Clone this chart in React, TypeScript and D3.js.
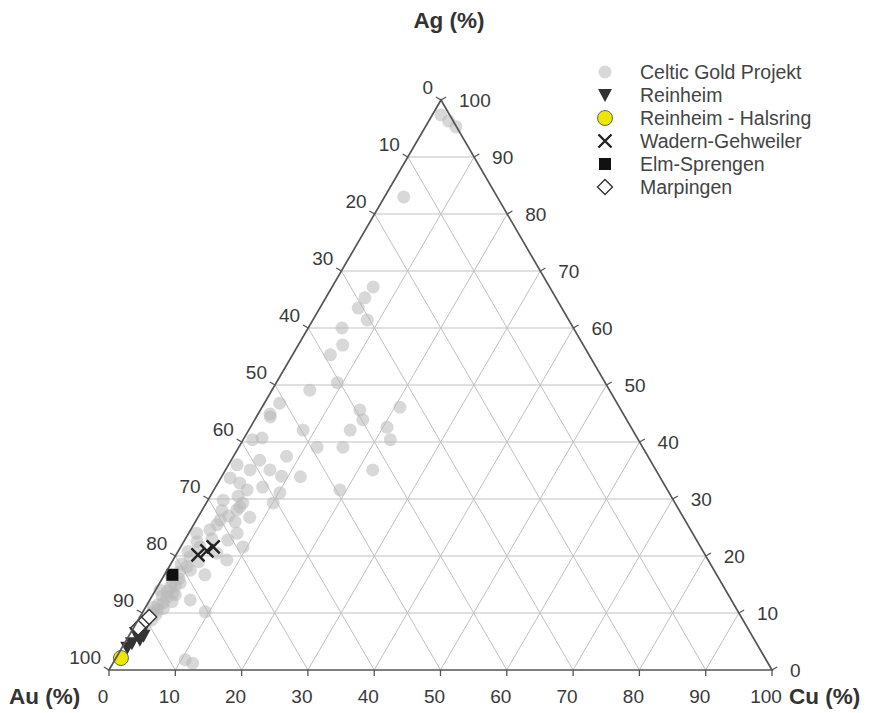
import React from "react";
import * as d3 from "d3";

// values are [Ag %, Cu %]; Au = 100 - Ag - Cu
const celticGold: [number, number][] = [
  [97.4, 1.3], [96.3, 3.0], [95.3, 4.6], [83.0, 2.9],
  [67.2, 6.2], [65.3, 5.9], [63.5, 5.8], [61.4, 8.2], [60.0, 5.1], [57.0, 6.7],
  [55.3, 5.7], [50.4, 9.2], [49.1, 5.7], [46.8, 2.3], [44.4, 2.1], [42.1, 8.2],
  [39.1, 11.8], [45.6, 15.0], [43.9, 16.3], [42.1, 15.3], [39.1, 15.7], [40.4, 22.2],
  [42.6, 20.6], [46.1, 20.8], [35.1, 22.2], [33.9, 11.9], [35.1, 6.7], [36.8, 4.3],
  [32.8, 3.3], [31.6, 5.0], [32.1, 7.1], [31.1, 10.2], [28.6, 5.4], [29.3, 10.1],
  [31.6, 19.0], [29.8, 2.3], [28.1, 5.2], [26.3, 3.6], [24.6, 2.9], [21.6, 2.9],
  [19.8, 2.3], [18.1, 2.7], [24.0, 7.3], [21.6, 9.4], [19.3, 8.1], [26.8, 7.8],
  [29.3, 5.5], [20.5, 6.0], [24.0, 1.2], [15.3, 3.1], [13.5, 2.9], [11.8, 2.3],
  [10.2, 1.5], [12.3, 6.1], [10.2, 9.4], [1.8, 10.6], [1.2, 12.0],
  [40.4, 1.4], [44.9, 1.8], [40.7, 2.7], [36.0, 1.3], [35.1, 3.7], [33.7, 1.4],
  [22.8, 6.5], [16.7, 6.1], [14.0, 0.7], [16.7, 0.9], [7.9, 1.5], [6.1, 1.6],
  [28.0, 3.0], [27.0, 4.5], [25.5, 3.5], [23.0, 4.0], [22.5, 2.0], [19.0, 4.0],
  [17.5, 3.5], [16.0, 2.5], [14.5, 2.0], [13.0, 1.5], [12.0, 3.5], [10.8, 2.8],
  [9.8, 2.2], [8.8, 2.0], [30.5, 4.2], [26.0, 6.0], [37.5, 8.0], [34.0, 9.0],
  [15.5, 1.8], [14.8, 2.6], [13.8, 1.9], [12.8, 2.4], [11.5, 1.7], [10.6, 2.0],
  [9.6, 1.4], [11.0, 1.2], [13.2, 3.4], [18.6, 1.6], [20.8, 1.5], [17.2, 2.0],
];
const reinheim: [number, number][] = [
  [7.0, 1.6], [6.5, 0.8], [5.3, 2.0], [4.7, 1.1], [3.9, 0.8], [6.0, 2.2],
];
const halsring: [number, number][] = [[2.1, 0.75]];
const wadern: [number, number][] = [[21.6, 4.9], [20.2, 3.3], [20.9, 4.3]];
const elmSprengen: [number, number][] = [[16.7, 1.2]];
const marpingen: [number, number][] = [[8.2, 1.0], [9.3, 1.4], [7.4, 0.7]];

const legendLabels = [
  "Celtic Gold Projekt",
  "Reinheim",
  "Reinheim - Halsring",
  "Wadern-Gehweiler",
  "Elm-Sprengen",
  "Marpingen",
];
const ticks = d3.range(0, 101, 10);
const grid = d3.range(10, 100, 10);

const W = 882;
const H = 713;
const x0 = 109;
const baseY = 670;
const cuX = d3.scaleLinear().domain([0, 100]).range([0, 663]);
const agX = d3.scaleLinear().domain([0, 100]).range([0, 332]);
const agY = d3.scaleLinear().domain([0, 100]).range([baseY, 100]);

const pt = (ag: number, cu: number): [number, number] => [x0 + cuX(cu) + agX(ag), agY(ag)];

const font = "Arial, 'Liberation Sans', sans-serif";
const tickLen = 6;
// outward normals of the edges
const nLeft = [-0.864, -0.503];
const nRight = [0.865, -0.502];

function Marker({ kind, x, y }: { kind: string; x: number; y: number }) {
  if (kind === "gray")
    return <circle cx={x} cy={y} r={6.5} fill="#b8b8b8" fillOpacity={0.55} />;
  if (kind === "tri")
    return <path d={`M${x - 7},${y - 6}L${x + 7},${y - 6}L${x},${y + 7}Z`} fill="#333" />;
  if (kind === "yellow")
    return <circle cx={x} cy={y} r={7.5} fill="#ece600" stroke="#666" strokeWidth={1} />;
  if (kind === "x")
    return (
      <path
        d={`M${x - 6.5},${y - 6.5}L${x + 6.5},${y + 6.5}M${x - 6.5},${y + 6.5}L${x + 6.5},${y - 6.5}`}
        stroke="#222"
        strokeWidth={2.4}
      />
    );
  if (kind === "square")
    return <rect x={x - 6} y={y - 6} width={12} height={12} fill="#111" />;
  return (
    <path
      d={`M${x},${y - 7.5}L${x + 7.5},${y}L${x},${y + 7.5}L${x - 7.5},${y}Z`}
      fill="#fff"
      stroke="#333"
      strokeWidth={1.4}
    />
  );
}

export default function App() {
  const series: [string, [number, number][]][] = [
    ["gray", celticGold],
    ["tri", reinheim],
    ["x", wadern],
    ["square", elmSprengen],
    ["diamond", marpingen],
    ["yellow", halsring],
  ];
  const legendKinds = ["gray", "tri", "yellow", "x", "square", "diamond"];
  const apex = pt(100, 0);
  const bl = pt(0, 0);
  const br = pt(0, 100);

  return (
    <svg
      width={W}
      height={H}
      style={{ position: "absolute", left: 0, top: 0, background: "#fff" }}
      fontFamily={font}
    >
      {/* grid */}
      <g stroke="#c0c0c0" strokeWidth={1}>
        {grid.map((v) => {
          const a1 = pt(v, 0), a2 = pt(v, 100 - v);
          const c1 = pt(0, v), c2 = pt(100 - v, v);
          const u1 = pt(100 - v, 0), u2 = pt(0, 100 - v);
          return (
            <g key={v}>
              <line x1={a1[0]} y1={a1[1]} x2={a2[0]} y2={a2[1]} />
              <line x1={c1[0]} y1={c1[1]} x2={c2[0]} y2={c2[1]} />
              <line x1={u1[0]} y1={u1[1]} x2={u2[0]} y2={u2[1]} />
            </g>
          );
        })}
      </g>

      {/* points */}
      {series.map(([kind, data]) =>
        data.map((d, i) => {
          const [x, y] = pt(d[0], d[1]);
          return <Marker key={kind + i} kind={kind} x={x} y={y} />;
        })
      )}

      {/* frame */}
      <path
        d={`M${apex[0]},${apex[1]}L${bl[0]},${bl[1]}L${br[0]},${br[1]}Z`}
        fill="none"
        stroke="#555"
        strokeWidth={1.7}
      />

      {/* ticks + labels */}
      <g stroke="#555" strokeWidth={1.3}>
        {ticks.map((v) => {
          const b = pt(0, v);
          const l = pt(100 - v, 0);
          const r = pt(v, 100 - v);
          return (
            <g key={v}>
              <line x1={b[0]} y1={b[1]} x2={b[0]} y2={b[1] + tickLen} />
              <line x1={l[0]} y1={l[1]} x2={l[0] + nLeft[0] * tickLen} y2={l[1] + nLeft[1] * tickLen} />
              <line x1={r[0]} y1={r[1]} x2={r[0] + nRight[0] * tickLen} y2={r[1] + nRight[1] * tickLen} />
            </g>
          );
        })}
      </g>
      <g fill="#3a3a3a" fontSize={19}>
        {ticks.map((v) => {
          const b = pt(0, v);
          const l = pt(100 - v, 0);
          const r = pt(v, 100 - v);
          return (
            <g key={v}>
              <text x={b[0] - 6} y={703} textAnchor="middle">{v}</text>
              <text x={l[0] - 8} y={l[1] - 6} textAnchor="end">{v}</text>
              <text x={r[0] + 18} y={r[1] + 7}>{v}</text>
            </g>
          );
        })}
      </g>

      {/* axis titles */}
      <g fill="#333" fontWeight="bold" fontSize={22.5}>
        <text x={449} y={28} textAnchor="middle">Ag (%)</text>
        <text x={9} y={704}>Au (%)</text>
        <text x={789} y={704}>Cu (%)</text>
      </g>

      {/* legend */}
      <g>
        {legendLabels.map((label, i) => {
          const y = 72 + i * 23;
          return (
            <g key={label}>
              <Marker kind={legendKinds[i]} x={605} y={y} />
              <text x={640} y={y + 7} fontSize={19.5} fill="#444">{label}</text>
            </g>
          );
        })}
      </g>
    </svg>
  );
}
